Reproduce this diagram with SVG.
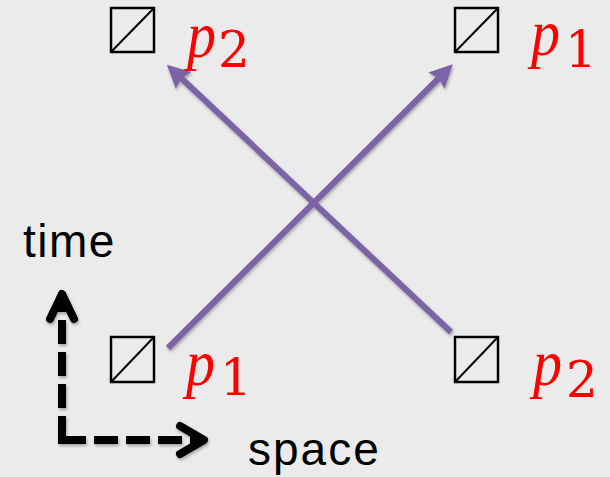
<svg xmlns="http://www.w3.org/2000/svg" width="610" height="477" viewBox="0 0 610 477">
  <style>
    .box rect { fill: none; stroke: #000; stroke-width: 2.5; }
    .box line { stroke: #000; stroke-width: 2; }
    .p { font-family: "Liberation Serif", "Times New Roman", serif; font-style: italic; font-size: 66px; fill: #ff0000; }
    .sub { font-family: "DejaVu Serif", serif; font-size: 50px; fill: #ff0000; }
    .axis-label { font-family: "Liberation Sans", Arial, sans-serif; font-size: 46px; fill: #000; }
    .world { fill: none; stroke: #7c63a5; stroke-width: 6; stroke-linecap: butt; }
    .axis { fill: none; stroke: #000; stroke-width: 8; }
  </style>
  <defs>
    <filter id="shadow" x="-20%" y="-20%" width="140%" height="140%">
      <feDropShadow dx="1" dy="2" stdDeviation="1.5" flood-color="#000" flood-opacity="0.3"/>
    </filter>
    <marker id="head" markerUnits="userSpaceOnUse" markerWidth="26" markerHeight="26" viewBox="0 0 26 26" refX="5" refY="13" orient="auto">
      <path d="M0,1.5 L23,13 L0,24.5 L3,13 z" fill="#7c63a5"/>
    </marker>
  </defs>
  <rect x="0" y="0" width="610" height="477" fill="#ebebeb"/>

  <g id="connectors" filter="url(#shadow)">
    <line class="world" x1="168" y1="348" x2="440" y2="77" marker-end="url(#head)"/>
    <line class="world" x1="451" y1="332" x2="180" y2="77" marker-end="url(#head)"/>
  </g>

  <g id="axes">
    <g filter="url(#shadow)">
      <path class="axis" d="M62,292 L62,440 L205,440" stroke-dasharray="20 8 24 8 24 8 24 8 48 8 24 8 24 8 24 8 15 100"/>
      <path class="axis" d="M50,319 L62,294 L74,319" stroke-linecap="round" stroke-linejoin="round"/>
      <path class="axis" d="M180,426 L204,440 L180,454" stroke-linecap="round" stroke-linejoin="round"/>
    </g>
    <text class="axis-label" x="23" y="257" letter-spacing="1.5">time</text>
    <text class="axis-label" x="248" y="465" letter-spacing="2">space</text>
  </g>

  <g id="node-tl">
    <g class="box"><rect x="111" y="8" width="43" height="44"/><line x1="111" y1="52" x2="154" y2="8"/></g>
    <text class="p" transform="translate(187 57) scale(0.88 1)">p</text>
    <text class="sub" x="218" y="67">2</text>
  </g>
  <g id="node-tr">
    <g class="box"><rect x="455" y="8" width="43" height="44"/><line x1="455" y1="52" x2="498" y2="8"/></g>
    <text class="p" transform="translate(531 55) scale(0.88 1)">p</text>
    <text class="sub" x="565" y="67">1</text>
  </g>
  <g id="node-bl">
    <g class="box"><rect x="111" y="337" width="43" height="45"/><line x1="111" y1="382" x2="154" y2="337"/></g>
    <text class="p" transform="translate(186 385) scale(0.88 1)">p</text>
    <text class="sub" x="220" y="395">1</text>
  </g>
  <g id="node-br">
    <g class="box"><rect x="455" y="337" width="43" height="45"/><line x1="455" y1="382" x2="498" y2="337"/></g>
    <text class="p" transform="translate(533 385) scale(0.88 1)">p</text>
    <text class="sub" x="566" y="397">2</text>
  </g>
</svg>
